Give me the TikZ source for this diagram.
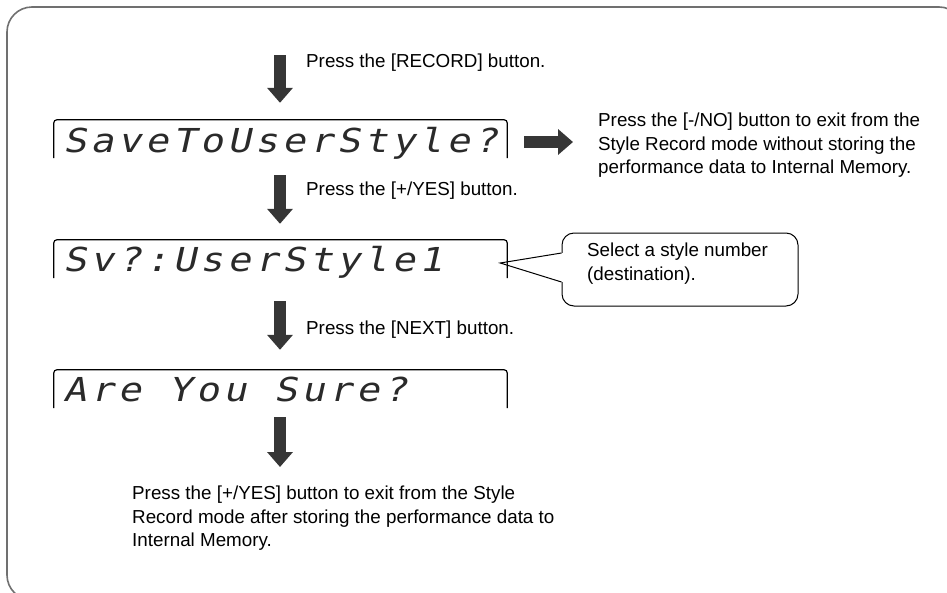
\documentclass[tikz,border=0pt]{standalone}
\usepackage{fontspec}
\setmainfont{Liberation Sans}
\newfontfamily\lcdfont[FakeSlant=0.22,FakeStretch=1.17,LetterSpace=12.6]{DejaVu Sans Mono}
\usetikzlibrary{arrows.meta}
\definecolor{arrowgray}{HTML}{363636}
\definecolor{framegray}{HTML}{707070}
\definecolor{lcdink}{HTML}{2A2A2A}
\begin{document}
\begin{tikzpicture}[x=1pt,y=-1pt,
  lbl/.style={font=\fontsize{18.8}{23.5}\selectfont, inner sep=0pt, align=left},
  lcdbox/.style={minimum width=453pt, minimum height=38pt, inner sep=0pt},
  lcdframe/.style={draw=black, line width=1.2pt, rounded corners=3pt},
  lcdtxt/.style={font=\lcdfont\fontsize{33}{33}\selectfont, text=lcdink, inner sep=0pt, anchor=base west},
  bigarrow/.style={draw=arrowgray, line width=12pt, -{Triangle[length=15pt,width=25pt]}},
  calloutbox/.style={draw=black, line width=1pt, rounded corners=12pt, minimum width=236pt, minimum height=73pt, inner sep=0pt}]
\useasboundingbox (0,0) rectangle (947,592);
\begin{scope}
\clip (0,0) rectangle (947,592);
\draw[framegray, line width=1.6pt, rounded corners=25pt] (7,7) rectangle (964,600);
\end{scope}

% LCD displays
\node[lcdbox] (lcd1) at (280.5,139) {};
\node[lcdbox] (lcd2) at (280.5,259) {};
\node[lcdbox] (lcd3) at (280.5,389) {};
\foreach \n in {lcd1,lcd2,lcd3}
  \draw[lcdframe] (\n.south west) -- (\n.north west) -- (\n.north east) -- (\n.south east);
\node[lcdtxt] (lcd1t) at ([xshift=9pt,yshift=6pt]lcd1.south west) {SaveToUserStyle?};
\node[lcdtxt] (lcd2t) at ([xshift=9pt,yshift=7pt]lcd2.south west) {Sv?:UserStyle1};
\node[lcdtxt] (lcd3t) at ([xshift=9pt,yshift=7pt]lcd3.south west) {Are You Sure?};

% labels
\node[lbl, anchor=west] (l1) at (306,62.5) {Press the [RECORD] button.};
\node[lbl, anchor=west] (l2) at (306,191) {Press the [+/YES] button.};
\node[lbl, anchor=west] (l3) at (306,330) {Press the [NEXT] button.};
\node[lbl, anchor=north west] (rt) at (598,113) {Press the [-/NO] button to exit from the\\Style Record mode without storing the\\performance data to Internal Memory.};
\node[lbl, anchor=north west] (bt) at (132,486) {Press the [+/YES] button to exit from the Style\\Record mode after storing the performance data to\\Internal Memory.};

% callout
\node[calloutbox] (co) at (680,269.5) {};
\node[lbl, anchor=north west] (cot) at (587,243) {Select a style number\\(destination).};
\coordinate (p1) at ([yshift=16.5pt]co.west);
\coordinate (p2) at ([yshift=-12.5pt]co.west);
\coordinate (ptip) at ([xshift=-7pt,yshift=-4pt]lcd2.east);
\fill[white] ([xshift=-1.5pt]p1) rectangle ([xshift=1.5pt]p2);
\draw[line width=1pt] (p1) -- (ptip) -- (p2);

% arrows
\coordinate (a1) at (280,55);
\coordinate (a4e) at (280,467);
\draw[bigarrow, shorten >=17pt] (a1) -- (a1 |- lcd1.north);
\draw[bigarrow, shorten <=17pt, shorten >=16pt] (lcd1.south -| a1) -- (lcd2.north -| a1);
\draw[bigarrow, shorten <=23pt, shorten >=20pt] (lcd2.south -| a1) -- (lcd3.north -| a1);
\draw[bigarrow, shorten <=9pt] (lcd3.south -| a1) -- (a4e);
\draw[bigarrow, shorten <=17pt, shorten >=25pt] ([yshift=-3pt]lcd1.east) -- ([yshift=-3pt]lcd1.east -| rt.west);
\end{tikzpicture}
\end{document}
